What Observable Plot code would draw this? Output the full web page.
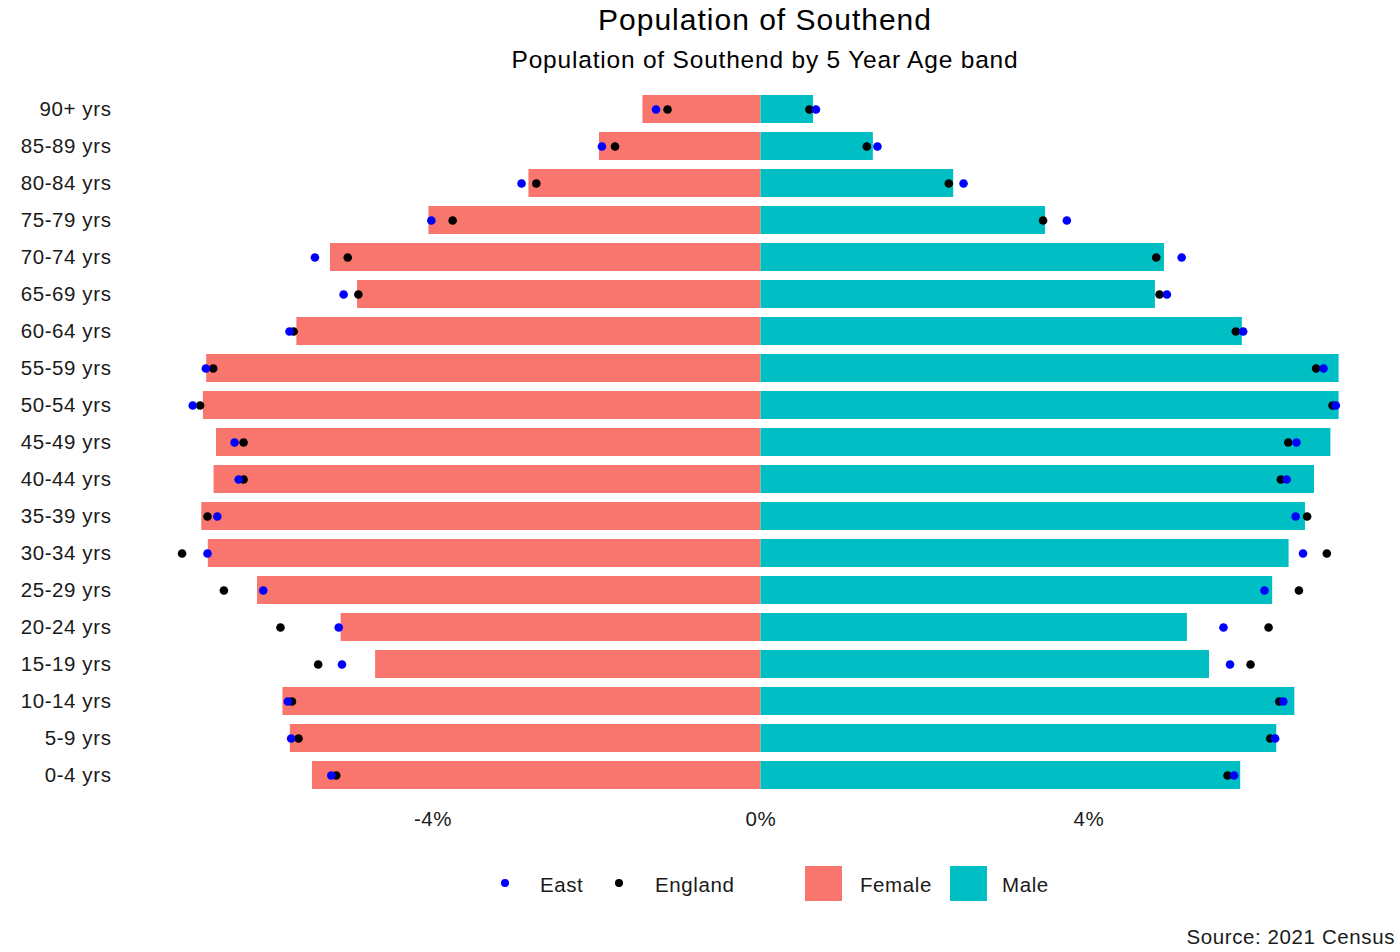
<!DOCTYPE html>
<html>
<head>
<meta charset="utf-8">
<script src="https://cdn.jsdelivr.net/npm/d3@7"></script>
<script src="https://cdn.jsdelivr.net/npm/@observablehq/plot@0.6"></script>
<style>
  html, body { margin: 0; padding: 0; background: #ffffff; }
  body { width: 1400px; height: 952px; position: relative; overflow: hidden;
         font-family: "Liberation Sans", Arial, sans-serif; color: #1a1a1a; }
  .abs { position: absolute; line-height: 1; white-space: nowrap; }
  #title { top: 5px; left: 130px; width: 1270px; text-align: center; font-size: 30px; letter-spacing: 1px; color: #000; }
  #subtitle { top: 48px; left: 130px; width: 1270px; text-align: center; font-size: 24.5px; letter-spacing: 0.8px; color: #000; }
  #chart { position: absolute; top: 80px; left: 0; }
  .leg { font-size: 20.5px; letter-spacing: 0.6px; }
  .dot { position: absolute; width: 8px; height: 8px; border-radius: 50%; }
  .sw { position: absolute; width: 37px; height: 35px; }
  #caption { top: 927px; right: 5px; font-size: 20.5px; letter-spacing: 0.6px; }
</style>
</head>
<body>
<div id="title" class="abs">Population of Southend</div>
<div id="subtitle" class="abs">Population of Southend by 5 Year Age band</div>
<div id="chart"></div>
<div id="legend"></div>
<div id="caption" class="abs">Source: 2021 Census</div>
<script>
// Age bands, top to bottom
const ages = ["90+ yrs","85-89 yrs","80-84 yrs","75-79 yrs","70-74 yrs","65-69 yrs","60-64 yrs",
  "55-59 yrs","50-54 yrs","45-49 yrs","40-44 yrs","35-39 yrs","30-34 yrs","25-29 yrs",
  "20-24 yrs","15-19 yrs","10-14 yrs","5-9 yrs","0-4 yrs"];

// Southend (bars), % of population; female shown to the left
const femaleSouthend = [-1.44,-1.97,-2.83,-4.05,-5.25,-4.92,-5.66,-6.76,-6.80,-6.64,-6.67,-6.82,-6.74,-6.14,-5.12,-4.70,-5.83,-5.74,-5.47];
const maleSouthend   = [0.64,1.37,2.35,3.47,4.92,4.81,5.87,7.05,7.05,6.95,6.75,6.64,6.44,6.24,5.20,5.47,6.51,6.29,5.85];

// East region (blue dots)
const femaleEast = [-1.28,-1.94,-2.92,-4.02,-5.44,-5.09,-5.75,-6.77,-6.93,-6.42,-6.37,-6.63,-6.75,-6.07,-5.15,-5.11,-5.77,-5.73,-5.24];
const maleEast   = [0.67,1.42,2.47,3.73,5.13,4.95,5.88,6.86,7.01,6.53,6.41,6.52,6.61,6.14,5.64,5.72,6.37,6.27,5.77];

// England (black dots)
const femaleEngland = [-1.14,-1.78,-2.74,-3.76,-5.04,-4.91,-5.70,-6.68,-6.84,-6.31,-6.31,-6.75,-7.06,-6.55,-5.86,-5.40,-5.72,-5.64,-5.18];
const maleEngland   = [0.59,1.29,2.29,3.44,4.82,4.86,5.79,6.77,6.97,6.43,6.34,6.66,6.90,6.56,6.19,5.97,6.32,6.21,5.69];

const xTicks = [-4, 0, 4];
const sexes = ["Female", "Male"];
const sexColors = ["#F8766D", "#00BFC4"];

const bars = ages.flatMap((age, i) => [
  {age, sex: "Female", value: femaleSouthend[i]},
  {age, sex: "Male", value: maleSouthend[i]}
]);
const england = ages.flatMap((age, i) => [
  {age, value: femaleEngland[i]}, {age, value: maleEngland[i]}
]);
const east = ages.flatMap((age, i) => [
  {age, value: femaleEast[i]}, {age, value: maleEast[i]}
]);

const chart = Plot.plot({
  width: 1400,
  height: 760,
  marginLeft: 125,
  marginRight: 4,
  marginTop: 4,
  marginBottom: 42.5,
  style: {fontFamily: "Liberation Sans, Arial, sans-serif", fontSize: "20.5px", letterSpacing: "0.6px", color: "#1a1a1a", background: "white"},
  x: {domain: [-7.75, 7.75], range: [125, 1396], label: null},
  y: {domain: ages, range: [3.5, 719.5], paddingInner: 0.25, paddingOuter: 0.25, label: null},
  color: {domain: sexes, range: sexColors},
  marks: [
    Plot.barX(bars, {x1: 0, x2: "value", y: "age", fill: "sex"}),
    Plot.dot(england, {x: "value", y: "age", r: 4.3, fill: "black", stroke: null}),
    Plot.dot(east, {x: "value", y: "age", r: 4.3, fill: "#0000FF", stroke: null}),
    Plot.axisY({tickSize: 0, tickPadding: 14, fontSize: 20.5, label: null}),
    Plot.axisX({ticks: xTicks, tickSize: 0, tickPadding: 13, fontSize: 20.5, label: null, tickFormat: d => `${d}%`})
  ]
});
document.getElementById("chart").appendChild(chart);

// Legend
const legend = document.getElementById("legend");
const items = [
  {kind: "dot", color: "#0000FF", label: "East", mx: 505, tx: 540},
  {kind: "dot", color: "#000000", label: "England", mx: 619, tx: 655},
  {kind: "sw", color: sexColors[0], label: sexes[0], mx: 805, tx: 860},
  {kind: "sw", color: sexColors[1], label: sexes[1], mx: 950, tx: 1002}
];
for (const it of items) {
  const m = document.createElement("div");
  if (it.kind === "dot") {
    m.className = "dot";
    m.style.left = (it.mx - 4) + "px";
    m.style.top = (883 - 4) + "px";
  } else {
    m.className = "sw";
    m.style.left = it.mx + "px";
    m.style.top = "866px";
  }
  m.style.background = it.color;
  legend.appendChild(m);
  const t = document.createElement("div");
  t.className = "abs leg";
  t.textContent = it.label;
  t.style.left = it.tx + "px";
  t.style.top = "875px";
  legend.appendChild(t);
}
</script>
</body>
</html>
